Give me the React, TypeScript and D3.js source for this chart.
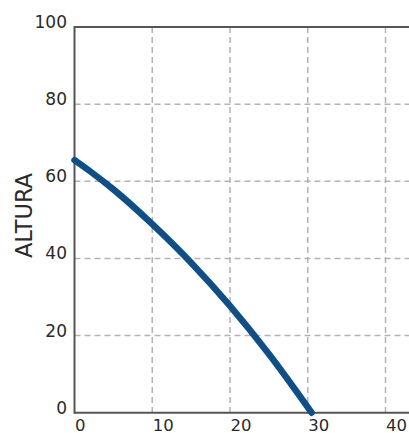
import React from "react";
import * as d3 from "d3";

const xTicks = [0, 10, 20, 30, 40];
const yTicks = [0, 20, 40, 60, 80, 100];
const curveX = [0, 2, 5, 10, 15, 20, 25, 30.5];
const curveY = [65.5, 62.6, 57.9, 48.9, 38.9, 27.7, 15.2, 0];
const yLabel = "ALTURA";

const W = 409;
const H = 433;

export default function App() {
  const x = d3.scaleLinear().domain([0, 40]).range([74.5, 385.5]);
  const y = d3.scaleLinear().domain([0, 100]).range([412.7, 27]);
  const xMax = x.invert(W + 2);

  const pts = curveX.map((v, i) => [v, curveY[i]] as [number, number]);
  const line = d3
    .line<[number, number]>()
    .x((d) => x(d[0]))
    .y((d) => y(d[1]))
    .curve(d3.curveMonotoneX);

  const font = "'DejaVu Sans', sans-serif";
  const gridColor = "#b3b3b3";
  const axisColor = "#555";

  return (
    <div style={{ position: "fixed", left: 0, top: 0 }}>
      <svg width={W} height={H} style={{ display: "block", background: "#fff" }}>
        {/* grid */}
        {xTicks
          .filter((t) => t > 0)
          .map((t) => (
            <line
              key={"gx" + t}
              x1={x(t)}
              x2={x(t)}
              y1={y(100)}
              y2={y(0)}
              stroke={gridColor}
              strokeWidth={1.5}
              strokeDasharray="6,4"
            />
          ))}
        {yTicks
          .filter((t) => t > 0 && t < 100)
          .map((t) => (
            <line
              key={"gy" + t}
              x1={x(0)}
              x2={x(xMax)}
              y1={y(t)}
              y2={y(t)}
              stroke={gridColor}
              strokeWidth={1.5}
              strokeDasharray="6,4"
            />
          ))}
        {/* frame */}
        <line x1={x(0)} x2={x(xMax)} y1={y(100)} y2={y(100)} stroke={axisColor} strokeWidth={2} />
        <line x1={x(0)} x2={x(xMax)} y1={y(0)} y2={y(0)} stroke={axisColor} strokeWidth={2} />
        <line x1={x(0)} x2={x(0)} y1={y(100) - 1} y2={y(0) + 1} stroke={axisColor} strokeWidth={2} />

        {/* curve */}
        <path
          d={line(pts) || ""}
          fill="none"
          stroke="#0f4f86"
          strokeWidth={6.5}
          strokeLinecap="round"
        />

        {/* y tick labels */}
        {yTicks.map((t) => (
          <text
            key={"ly" + t}
            x={67}
            y={y(t) + 1}
            textAnchor="end"
            fontFamily={font}
            fontSize={17}
            fill="#2a2a2a"
          >
            {t}
          </text>
        ))}
        {/* x tick labels */}
        {xTicks.map((t) => (
          <text
            key={"lx" + t}
            x={x(t) + 0.5}
            y={430.5}
            textAnchor="start"
            fontFamily={font}
            fontSize={16.5}
            fill="#2a2a2a"
          >
            {t}
          </text>
        ))}
        {/* axis title */}
        <text
          transform={`translate(31.5, 215.5) rotate(-90)`}
          textAnchor="middle"
          fontFamily={font}
          fontSize={23}
          fill="#2a2a2a"
          textLength={85}
          lengthAdjust="spacingAndGlyphs"
        >
          {yLabel}
        </text>
      </svg>
    </div>
  );
}
